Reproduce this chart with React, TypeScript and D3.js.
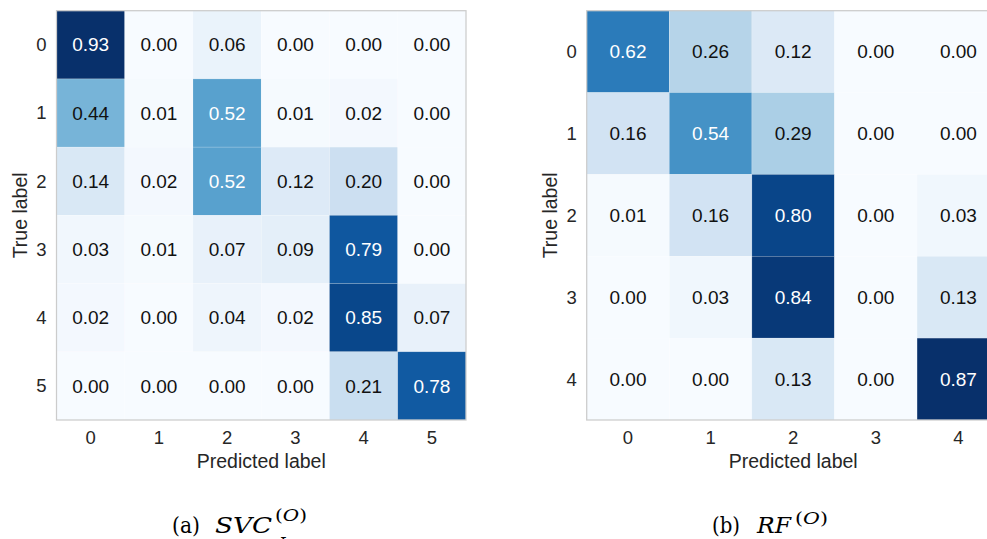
import React from 'react';
import * as d3 from 'd3';

// confusion matrix values (rows = true label, cols = predicted label)
const svcClasses = ['0', '1', '2', '3', '4', '5'];
const svcMatrix = [
  [0.93, 0.0, 0.06, 0.0, 0.0, 0.0],
  [0.44, 0.01, 0.52, 0.01, 0.02, 0.0],
  [0.14, 0.02, 0.52, 0.12, 0.2, 0.0],
  [0.03, 0.01, 0.07, 0.09, 0.79, 0.0],
  [0.02, 0.0, 0.04, 0.02, 0.85, 0.07],
  [0.0, 0.0, 0.0, 0.0, 0.21, 0.78],
];

const rfClasses = ['0', '1', '2', '3', '4'];
const rfMatrix = [
  [0.62, 0.26, 0.12, 0.0, 0.0],
  [0.16, 0.54, 0.29, 0.0, 0.0],
  [0.01, 0.16, 0.8, 0.0, 0.03],
  [0.0, 0.03, 0.84, 0.0, 0.13],
  [0.0, 0.0, 0.13, 0.0, 0.87],
];

const FONT = 'Arial, "Liberation Sans", Helvetica, sans-serif';
const SERIF = '"DejaVu Serif", "Liberation Serif", serif';

interface HeatmapProps {
  x: number;
  y: number;
  width: number;
  height: number;
  labelX: number;
  classes: string[];
  matrix: number[][];
}

const Heatmap: React.FC<HeatmapProps> = ({ x, y, width, height, labelX, classes, matrix }) => {
  const xScale = d3.scaleBand<string>().domain(classes).range([0, width]);
  const yScale = d3.scaleBand<string>().domain(classes).range([0, height]);
  const maxVal = d3.max(matrix.flat()) ?? 1;
  const color = d3.scaleSequential(d3.interpolateBlues).domain([0, maxVal]);
  const thresh = maxVal / 2;

  return (
    <g transform={`translate(${x},${y})`}>
      {matrix.map((row, i) =>
        row.map((v, j) => (
          <g key={`${i}-${j}`}>
            <rect
              x={xScale(classes[j])}
              y={yScale(classes[i])}
              width={xScale.bandwidth()}
              height={yScale.bandwidth()}
              fill={color(v)}
              stroke="rgba(255,255,255,0.25)"
              strokeWidth={0.6}
            />
            <text
              x={(xScale(classes[j]) ?? 0) + xScale.bandwidth() / 2}
              y={(yScale(classes[i]) ?? 0) + yScale.bandwidth() / 2}
              dy="0.35em"
              textAnchor="middle"
              fontFamily={FONT}
              fontSize={19}
              fill={v > thresh ? '#ffffff' : '#111111'}
            >
              {v.toFixed(2)}
            </text>
          </g>
        ))
      )}
      <rect x={0} y={0} width={width} height={height} fill="none" stroke="#cccccc" strokeWidth={1.25} />
      {classes.map((c) => (
        <text
          key={`yt-${c}`}
          x={-10}
          y={(yScale(c) ?? 0) + yScale.bandwidth() / 2}
          dy="0.35em"
          textAnchor="end"
          fontFamily={FONT}
          fontSize={18.5}
          fill="#262626"
        >
          {c}
        </text>
      ))}
      {classes.map((c) => (
        <text
          key={`xt-${c}`}
          x={(xScale(c) ?? 0) + xScale.bandwidth() / 2}
          y={height + 24}
          textAnchor="middle"
          fontFamily={FONT}
          fontSize={18.5}
          fill="#262626"
        >
          {c}
        </text>
      ))}
      <text
        x={width / 2}
        y={height + 48}
        textAnchor="middle"
        fontFamily={FONT}
        fontSize={19.5}
        fill="#262626"
      >
        Predicted label
      </text>
      <text
        transform={`translate(${labelX - x},${height / 2}) rotate(-90)`}
        textAnchor="middle"
        fontFamily={FONT}
        fontSize={19.5}
        fill="#262626"
      >
        True label
      </text>
    </g>
  );
};

export default function App() {
  return (
    <svg
      width={987}
      height={539}
      style={{ position: 'absolute', left: 0, top: 0, background: '#ffffff' }}
    >
      <Heatmap x={56.5} y={10.7} width={409.5} height={409.3} labelX={27} classes={svcClasses} matrix={svcMatrix} />
      <Heatmap x={586.7} y={10.7} width={413} height={409.3} labelX={557} classes={rfClasses} matrix={rfMatrix} />

      <g fontFamily={SERIF} fontSize={23} fill="#000000">
        <text x={172} y={533} textLength={28} lengthAdjust="spacingAndGlyphs">(a)</text>
        <text x={215} y={533} fontStyle="italic" textLength={57} lengthAdjust="spacingAndGlyphs">SVC</text>
        <text x={275} y={521} fontSize={17} textLength={32} lengthAdjust="spacingAndGlyphs">
          (<tspan fontStyle="italic">O</tspan>)
        </text>
        <text x={279} y={549} fontSize={17} fontStyle="italic">L</text>

        <text x={712} y={533} textLength={28} lengthAdjust="spacingAndGlyphs">(b)</text>
        <text x={757} y={533} fontStyle="italic" textLength={34} lengthAdjust="spacingAndGlyphs">RF</text>
        <text x={795} y={524} fontSize={17} textLength={33} lengthAdjust="spacingAndGlyphs">
          (<tspan fontStyle="italic">O</tspan>)
        </text>
      </g>
    </svg>
  );
}
